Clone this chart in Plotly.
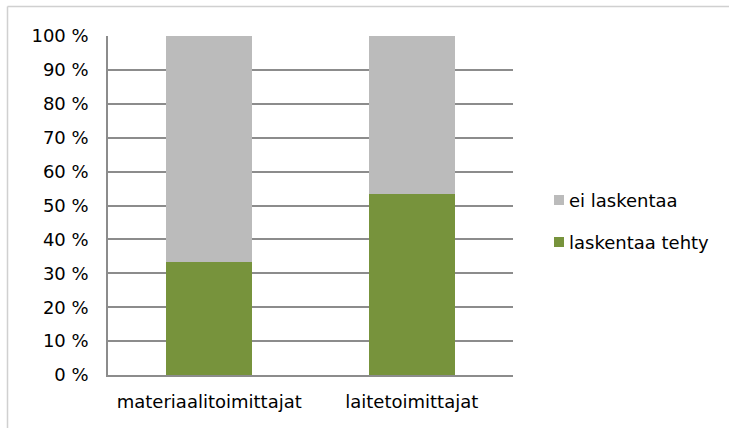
import plotly.graph_objects as go

categories = ["materiaalitoimittajat", "laitetoimittajat"]
done_pct = [33.3, 53.3]          # laskentaa tehty
none_pct = [66.7, 46.7]          # ei laskentaa
tick_vals = list(range(0, 101, 10))
tick_text = [f"{v} %" for v in tick_vals]
legend_names = ["ei laskentaa", "laskentaa tehty"]

GREEN = "#77933C"
GREY = "#BBBBBB"
GRID = "#8C8C8C"
FONT = dict(family="DejaVu Sans, Verdana, sans-serif", size=18, color="#000000")

fig = go.Figure()
fig.add_trace(go.Bar(
    x=categories, y=done_pct, name=legend_names[1],
    marker=dict(color=GREEN, line=dict(width=0)),
))
fig.add_trace(go.Bar(
    x=categories, y=none_pct, name=legend_names[0],
    marker=dict(color=GREY, line=dict(width=0)),
))

W, H = 729, 428
L, R, T, B = 108, 513, 36, 375
pw, ph = R - L, B - T

def px_x(x):
    return (x - L) / pw

def px_y(y):
    return (B - y) / ph

shapes = [
    # light chart-area frame
    dict(type="line", xref="paper", yref="paper",
         x0=px_x(7.5), x1=px_x(729), y0=px_y(6.5), y1=px_y(6.5),
         line=dict(color="#D0D0D0", width=1.5), layer="below"),
    dict(type="line", xref="paper", yref="paper",
         x0=px_x(7.5), x1=px_x(7.5), y0=px_y(6.5), y1=px_y(428),
         line=dict(color="#D0D0D0", width=1.5), layer="below"),
]
annotations = []

# legend: small colour key followed by the series name
for name, color, yc in [(legend_names[0], GREY, 200), (legend_names[1], GREEN, 242)]:
    shapes.append(dict(type="rect", xref="paper", yref="paper",
                       x0=px_x(554), x1=px_x(564), y0=px_y(yc - 5), y1=px_y(yc + 5),
                       fillcolor=color, line=dict(width=0)))
    annotations.append(dict(text=name, xref="paper", yref="paper",
                            x=px_x(567), y=px_y(yc), xanchor="left", yanchor="middle",
                            showarrow=False, font=FONT))

fig.update_layout(
    width=W, height=H,
    margin=dict(l=L, r=W - R, t=T, b=H - B, pad=0, autoexpand=False),
    barmode="stack",
    bargap=0.575,
    plot_bgcolor="white",
    paper_bgcolor="white",
    font=FONT,
    showlegend=False,
    xaxis=dict(
        showgrid=False, zeroline=False,
        showline=True, linecolor=GRID, linewidth=1.5,
        ticks="", tickfont=FONT, ticklabelstandoff=10,
    ),
    yaxis=dict(
        range=[0, 100], tickvals=tick_vals, ticktext=tick_text,
        showgrid=True, gridcolor=GRID, gridwidth=1.5,
        zeroline=False, showline=True, linecolor=GRID, linewidth=1.5,
        ticks="", tickfont=FONT, ticklabelstandoff=14,
    ),
    shapes=shapes,
    annotations=annotations,
)

fig.write_html("out.html")
